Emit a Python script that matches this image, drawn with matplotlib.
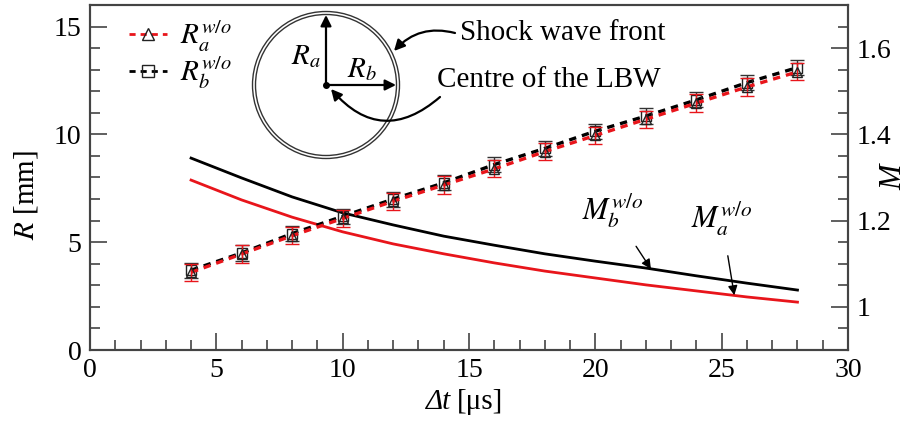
import matplotlib
matplotlib.use("Agg")
import matplotlib.pyplot as plt
from matplotlib.patches import Circle
from matplotlib.ticker import MultipleLocator, FuncFormatter
from matplotlib.lines import Line2D

plt.rcParams['font.family'] = ['Liberation Serif', 'DejaVu Serif']
plt.rcParams['mathtext.fontset'] = 'stix'

# ---- data ----
t_pts = [4, 6, 8, 10, 12, 14, 16, 18, 20, 22, 24, 26, 28]
R_b = [3.7, 4.5, 5.4, 6.2, 7.0, 7.75, 8.6, 9.35, 10.15, 10.85, 11.6, 12.4, 13.1]
R_a = [3.6, 4.45, 5.3, 6.1, 6.9, 7.65, 8.4, 9.2, 9.95, 10.7, 11.45, 12.2, 12.9]
R_b_err = [0.35] * 13
R_a_err = [0.4] * 13

t_M = [4, 6, 8, 10, 12, 14, 16, 18, 20, 22, 24, 26, 28]
M_b = [1.345, 1.299, 1.255, 1.218, 1.190, 1.164, 1.143, 1.123, 1.106, 1.090, 1.072, 1.055, 1.039]
M_a = [1.294, 1.248, 1.208, 1.174, 1.146, 1.123, 1.102, 1.083, 1.067, 1.051, 1.037, 1.023, 1.011]

W, H = 913, 423
fig = plt.figure(figsize=(W / 100, H / 100), dpi=100)
ax = fig.add_axes([90 / W, 1 - 350 / H, (848 - 90) / W, (350 - 5) / H])
ax2 = ax.twinx()

spine_c = '#444444'
red = '#e8151b'
dash = (0, (2.2, 1.8))

# M curves (right axis)
ax2.plot(t_M, M_b, color='black', lw=2.0, zorder=2)
ax2.plot(t_M, M_a, color=red, lw=2.0, zorder=2)
ax2.set_ylim(0.9, 1.7)

# R data (left axis) - drawn above ax2
ax.set_zorder(ax2.get_zorder() + 1)
ax.patch.set_visible(False)
ax.errorbar(t_pts, R_b, yerr=R_b_err, fmt='s', mfc='none', mec='#222222', ms=7, mew=1.0,
            ecolor='#333333', elinewidth=1.0, capsize=5, capthick=1.0, zorder=3)
ax.plot(t_pts, R_b, color='black', ls=dash, lw=2.4, zorder=3)
ax.errorbar(t_pts, R_a, yerr=R_a_err, fmt='^', mfc='none', mec='#222222', ms=7, mew=1.0,
            ecolor=red, elinewidth=1.0, capsize=5, capthick=1.0, zorder=4)
ax.plot(t_pts, R_a, color=red, ls=dash, lw=2.4, zorder=4)

ax.set_xlim(0, 30)
ax.set_ylim(0, 16)
ax.xaxis.set_major_locator(MultipleLocator(5))
ax.xaxis.set_minor_locator(MultipleLocator(1))
ax.yaxis.set_major_locator(MultipleLocator(5))
ax.yaxis.set_minor_locator(MultipleLocator(1))
ax2.yaxis.set_major_locator(MultipleLocator(0.2))
ax2.yaxis.set_minor_locator(MultipleLocator(0.05))
ax2.yaxis.set_major_formatter(FuncFormatter(lambda v, p: '%g' % round(v, 2)))

for a in (ax, ax2):
    a.tick_params(which='major', direction='in', length=12, width=1.2, color=spine_c, labelsize=20, pad=6)
    a.tick_params(which='minor', direction='in', length=7, width=1.2, color=spine_c)
    for s in a.spines.values():
        s.set_color(spine_c)
        s.set_linewidth(1.5)
ax.tick_params(top=False, which='both')

ax.set_ylabel(r'$R$ [mm]', fontsize=21)
ax.yaxis.set_label_coords(-0.066, 0.45)

# legend
h1 = Line2D([], [], color=red, ls=dash, lw=2.0, marker='^', mfc='none', mec='#222222', ms=8)
h2 = Line2D([], [], color='black', ls=dash, lw=2.0, marker='s', mfc='none', mec='#222222', ms=8)
leg = ax.legend([h1, h2], [r'$R_a^{w/o}$', r'$R_b^{w/o}$'], loc='upper left',
                bbox_to_anchor=(0.052, 0.96), frameon=False, fontsize=21,
                borderpad=0, borderaxespad=0,
                handlelength=1.3, handletextpad=0.45, labelspacing=0.0)

# M annotations
ax2.annotate(r'$M_b^{w/o}$', xy=(22.2, 1.088), xytext=(20.7, 1.222), fontsize=22,
             ha='center', va='center',
             arrowprops=dict(arrowstyle='-|>', color='black', lw=1.0, mutation_scale=14,
                             shrinkA=11, shrinkB=0))
ax2.annotate(r'$M_a^{w/o}$', xy=(25.5, 1.027), xytext=(25.0, 1.205), fontsize=22,
             ha='center', va='center',
             arrowprops=dict(arrowstyle='-|>', color='black', lw=1.0, mutation_scale=14,
                             shrinkA=11, shrinkB=0))

# overlay in pixel coordinates (schematic + axis labels)
ov = fig.add_axes([0, 0, 1, 1], zorder=10)
ov.set_xlim(0, W)
ov.set_ylim(H, 0)
ov.axis('off')
ov.patch.set_visible(False)

ov.text(451, 402, 'Δt', fontsize=21, fontstyle='italic', ha='right', va='center')
ov.text(457, 402, '[μs]', fontsize=21, ha='left', va='center')
ov.text(894, 177, 'M', fontsize=22, fontstyle='italic', rotation=90, ha='center', va='center')

cx, cy = 326, 85
ov.add_patch(Circle((cx, cy), 73.5, fill=False, ec='#333333', lw=1.0))
ov.add_patch(Circle((cx, cy), 70.5, fill=False, ec='#333333', lw=1.0))
ov.plot([cx], [cy], 'o', color='black', ms=4)
ov.annotate('', xy=(cx, cy - 70), xytext=(cx, cy),
            arrowprops=dict(arrowstyle='-|>', color='black', lw=1.6, mutation_scale=16, shrinkA=0, shrinkB=0))
ov.annotate('', xy=(cx + 70, cy), xytext=(cx, cy),
            arrowprops=dict(arrowstyle='-|>', color='black', lw=1.6, mutation_scale=16, shrinkA=0, shrinkB=0))
ov.text(306, 57, r'$R_a$', fontsize=21, ha='center', va='center')
ov.text(362, 70, r'$R_b$', fontsize=21, ha='center', va='center')

ov.text(460, 33, 'Shock wave front', fontsize=21, ha='left', va='center')
ov.text(437, 80, 'Centre of the LBW', fontsize=21, ha='left', va='center')
ov.annotate('', xy=(394, 51), xytext=(455, 33),
            arrowprops=dict(arrowstyle='-|>', color='black', lw=1.6, mutation_scale=16,
                            shrinkA=0, shrinkB=0, connectionstyle='arc3,rad=0.3'))
ov.annotate('', xy=(331, 89), xytext=(440, 97),
            arrowprops=dict(arrowstyle='-|>', color='black', lw=1.6, mutation_scale=16,
                            shrinkA=0, shrinkB=0, connectionstyle='arc3,rad=-0.5'))

fig.savefig('out.png', dpi=100)
